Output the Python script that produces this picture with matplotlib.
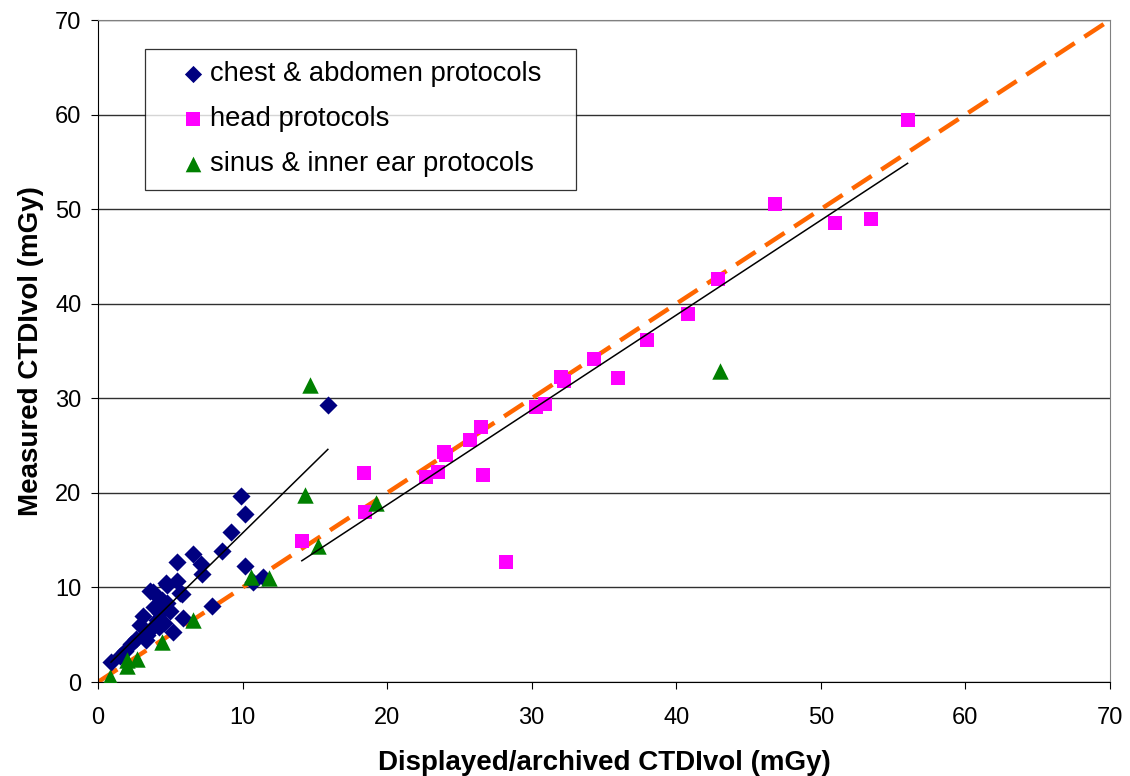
import numpy as np
import matplotlib.pyplot as plt
from matplotlib.legend_handler import HandlerPathCollection

plt.rcParams['font.family'] = ['Liberation Sans', 'DejaVu Sans']

# Chest & abdomen protocols (displayed vs measured CTDIvol, mGy)
chest_x = [0.9, 1.5, 1.9, 2.3, 2.6, 2.9, 3.1, 3.3, 3.4, 3.6, 3.6, 3.8, 3.9, 4.1,
           4.2, 4.3, 4.4, 4.6, 4.7, 4.8, 4.8, 5.0, 5.2, 5.5, 5.5, 5.7, 5.8, 5.9,
           6.6, 7.1, 7.2, 7.9, 8.6, 9.2, 9.9, 10.2, 10.2, 10.7, 11.4, 15.9]
chest_y = [2.1, 2.8, 3.3, 4.0, 4.5, 6.0, 7.0, 4.4, 5.0, 9.6, 5.5, 9.5, 7.9, 6.6,
           5.8, 7.3, 8.7, 6.2, 10.5, 8.4, 10.3, 7.5, 5.3, 12.7, 10.7, 9.4, 9.3, 6.8,
           13.5, 12.5, 11.4, 8.0, 13.9, 15.9, 19.7, 17.8, 12.3, 10.6, 11.1, 29.3]

# Head protocols
head_x = [14.1, 18.4, 18.5, 22.7, 23.5, 23.9, 24.1, 25.7, 26.5, 26.6, 28.2,
          30.3, 30.9, 32.0, 32.2, 34.3, 36.0, 38.0, 40.8, 42.9, 46.8, 51.0,
          53.5, 56.0]
head_y = [14.9, 22.1, 18.0, 21.7, 22.2, 24.3, 24.0, 25.6, 27.0, 21.9, 12.7,
          29.1, 29.4, 32.3, 31.8, 34.2, 32.1, 36.2, 38.9, 42.6, 50.5, 48.5,
          49.0, 59.4]

# Sinus & inner ear protocols
sinus_x = [0.8, 2.0, 2.0, 2.7, 4.4, 6.6, 10.6, 11.8, 14.3, 14.7, 15.2, 19.2, 43.0]
sinus_y = [0.5, 1.7, 2.3, 2.4, 4.2, 6.6, 11.1, 11.0, 19.8, 31.4, 14.4, 18.9, 32.9]

# Linear trendlines (slope, intercept)
chest_fit = (1.50, 0.75)
head_fit = (1.003, -1.32)

fig = plt.figure(figsize=(11.3, 7.76), dpi=100)
ax = fig.add_axes([0.0867, 0.1211, 0.8956, 0.8531])

ax.set_xlim(0, 70)
ax.set_ylim(0, 70)
ax.set_xticks(np.arange(0, 71, 10))
ax.set_yticks(np.arange(0, 71, 10))
ax.yaxis.grid(True, color='#303030', linewidth=1.0)
ax.set_axisbelow(True)

# identity line
ax.plot([0, 70], [0, 70], color='#FF6600', linewidth=3.2,
        dashes=(5.2, 2.6), zorder=2)

# trendlines over each group's range
for xs, (k, b) in [(chest_x, chest_fit), (head_x, head_fit)]:
    xr = np.array([min(xs), max(xs)])
    ax.plot(xr, k * xr + b, color='black', linewidth=1.1, zorder=4)

ax.scatter(chest_x, chest_y, marker='D', s=85, color='#000080',
           linewidths=0, zorder=3, label='chest & abdomen protocols')
ax.scatter(head_x, head_y, marker='s', s=110, color='#FF00FF',
           linewidths=0, zorder=3, label='head protocols')
ax.scatter(sinus_x, sinus_y, marker='^', s=140, color='#008000',
           linewidths=0, zorder=3, label='sinus & inner ear protocols')

for side in ['top', 'right']:
    ax.spines[side].set_color('#808080')
for side in ['left', 'bottom']:
    ax.spines[side].set_color('black')
ax.tick_params(direction='out', length=5, labelsize=17, color='black')
ax.tick_params(axis='x', pad=13)
ax.tick_params(axis='y', pad=7)

ax.set_xlabel('Displayed/archived CTDIvol (mGy)', fontsize=20,
              fontweight='bold', labelpad=15)
ax.set_ylabel('Measured CTDIvol (mGy)', fontsize=20, fontweight='bold',
              labelpad=8)

# legend box spans a fixed width; marker shifted right inside the handle area
hmap = {}
for coll in ax.collections:
    hmap[coll] = HandlerPathCollection(xpad=0.9)
leg = ax.legend(loc='upper left', bbox_to_anchor=(0.0464, 0.5, 0.4259, 0.456),
                mode='expand', fontsize=19.7, frameon=True, fancybox=False,
                edgecolor='black', markerscale=0.95, handletextpad=0.2,
                borderpad=0.45, labelspacing=0.69, handlelength=1.72,
                borderaxespad=0, handler_map=hmap)
leg.get_frame().set_linewidth(0.9)

plt.savefig('out.png', dpi=100)
